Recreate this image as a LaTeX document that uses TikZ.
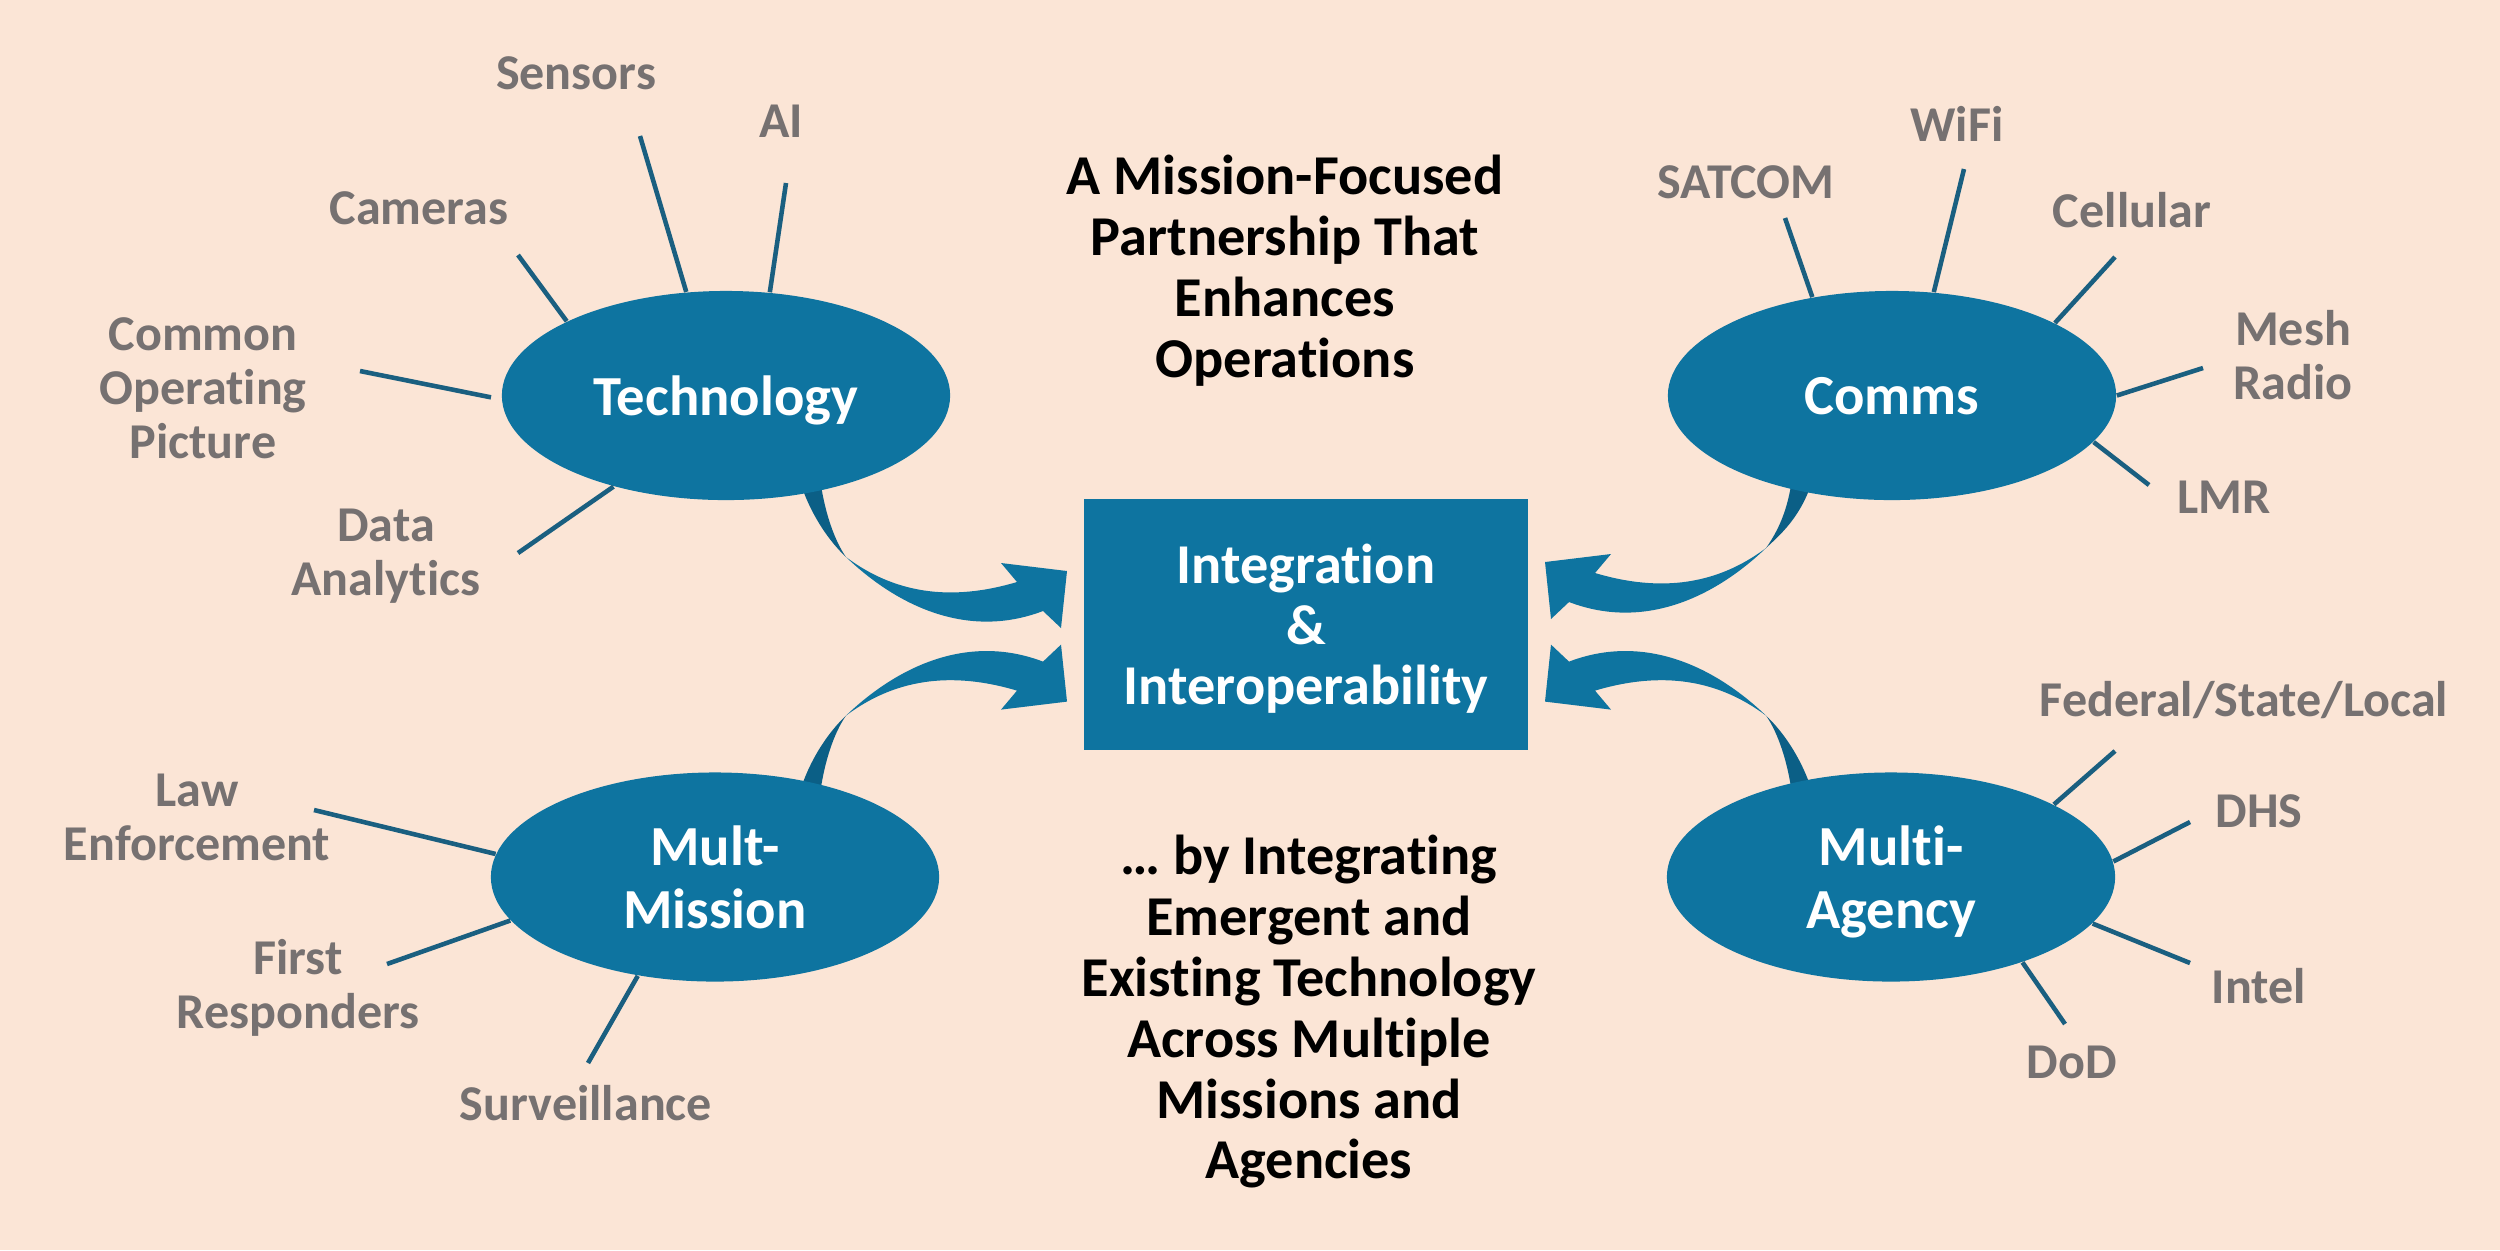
\documentclass[tikz,border=0pt]{standalone}
\usepackage{fontspec}
\setmainfont{Carlito}[Ligatures={NoCommon,NoContextual}]
\usetikzlibrary{shapes.geometric}
\definecolor{bgc}{HTML}{FBE5D6}
\definecolor{bluec}{HTML}{0E74A0}
\definecolor{darkc}{HTML}{0B5F86}
\definecolor{spokec}{HTML}{1A5F80}
\definecolor{greyc}{HTML}{767171}
% #1 x offset, #2 x scale, #3 y offset, #4 y scale, #5 head shift
\newcommand{\CArrow}[5]{%
 \fill[darkc] ({#1+(#2)*799.5},{#3+(#4)*480})
   .. controls ({#1+(#2)*811},{#3+(#4)*517}) and ({#1+(#2)*831.4},{#3+(#4)*(543.4+(#5))})
   .. ({#1+(#2)*846},{#3+(#4)*(557+(#5))})
   .. controls ({#1+(#2)*834},{#3+(#4)*(540+(#5))}) and ({#1+(#2)*824},{#3+(#4)*510})
   .. ({#1+(#2)*820},{#3+(#4)*478}) -- cycle;
 \fill[bluec] ({#1+(#2)*846},{#3+(#4)*(557+(#5))})
   .. controls ({#1+(#2)*896.4},{#3+(#4)*(605.3+(#5))}) and ({#1+(#2)*967},{#3+(#4)*(640+(#5))})
   .. ({#1+(#2)*1043},{#3+(#4)*(611+(#5))})
   -- ({#1+(#2)*1061},{#3+(#4)*(628+(#5))})
   -- ({#1+(#2)*1067},{#3+(#4)*(571+(#5))})
   -- ({#1+(#2)*1001},{#3+(#4)*(563+(#5))})
   -- ({#1+(#2)*1017},{#3+(#4)*(582+(#5))})
   .. controls ({#1+(#2)*949.8},{#3+(#4)*(602+(#5))}) and ({#1+(#2)*894},{#3+(#4)*(593+(#5))})
   .. ({#1+(#2)*846},{#3+(#4)*(557+(#5))}) -- cycle;
}
\begin{document}
\begin{tikzpicture}[x=0.01cm,y=-0.01cm,
  lbl/.style={text=greyc, font=\fontsize{14.25}{15.4}\selectfont\bfseries, align=center, inner sep=0pt, text depth=0pt},
  hub/.style={ellipse, fill=bluec, text=white, minimum width=4.48cm, minimum height=2.09cm, inner sep=0pt, text depth=0pt, font=\fontsize{16.1}{17.9}\selectfont\bfseries, align=center},
  core/.style={rectangle, fill=bluec, text=white, minimum width=4.44cm, minimum height=2.5cm, inner sep=0pt, text depth=0pt, font=\fontsize{16}{17.2}\selectfont\bfseries, align=center},
  note/.style={text=black, font=\fontsize{16}{17.3}\selectfont\bfseries, align=center, inner sep=0pt, text depth=0pt},
  spoke/.style={draw=spokec, line width=1.3pt}]
\fill[bgc] (0,0) rectangle (2500,1250);
\useasboundingbox (0,0) rectangle (2500,1250);

% curved arrows
\CArrow{0}{1}{0}{1}{0}
\CArrow{2612}{-1}{0}{1}{-9}
\CArrow{0}{1}{1272.6}{-1}{0}
\CArrow{2612}{-1}{1272.6}{-1}{0}

% hubs
\node[hub] (tech) at (726,395.5) {Technology};
\node[hub] (comms) at (1892,395.5) {Comms};
\node[hub] (mission) at (715,877) {Mult-\\Mission};
\node[hub] (agency) at (1891,877) {Multi-\\Agency};
\node[core] (integ) at (1306,624.5) {Integration\\\&\\Interoperability};

% spoke ends
\coordinate (e-sensors) at (640,136);
\coordinate (e-ai) at (786,183);
\coordinate (e-cameras) at (518,255);
\coordinate (e-cop) at (360,371);
\coordinate (e-data) at (518,553);
\coordinate (e-satcom) at (1785,218);
\coordinate (e-wifi) at (1964,169);
\coordinate (e-cell) at (2115,257);
\coordinate (e-mesh) at (2203,368);
\coordinate (e-lmr) at (2149,485);
\coordinate (e-law) at (314,810);
\coordinate (e-first) at (387,964);
\coordinate (e-surv) at (588,1063);
\coordinate (e-fed) at (2115,751);
\coordinate (e-dhs) at (2190,822);
\coordinate (e-intel) at (2190,963);
\coordinate (e-dod) at (2065,1024);

% spokes
\draw[spoke] (tech.111.5) -- (e-sensors);
\draw[spoke] (tech.67.5) -- (e-ai);
\draw[spoke] (tech.155) -- (e-cameras);
\draw[spoke, shorten <=3pt] (tech.181) -- (e-cop);
\draw[spoke] (tech.219.5) -- (e-data);
\draw[spoke] (comms.129.6) -- (e-satcom);
\draw[spoke] (comms.68) -- (e-wifi);
\draw[spoke] (comms.24.8) -- (e-cell);
\draw[spoke] (comms.0) -- (e-mesh);
\draw[spoke] (comms.-13.8) -- (e-lmr);
\draw[spoke] (mission.174) -- (e-law);
\draw[spoke] (mission.192.9) -- (e-first);
\draw[spoke] (mission.232) -- (e-surv);
\draw[spoke] (agency.24.7) -- (e-fed);
\draw[spoke] (agency.4) -- (e-dhs);
\draw[spoke] (agency.-13.3) -- (e-intel);
\draw[spoke] (agency.-33.3) -- (e-dod);

% labels
\node[lbl] (sensors) at (576,73) {Sensors};
\node[lbl] (ai) at (781,121) {AI};
\node[lbl] (cameras) at (419,208) {Cameras};
\node[lbl] (cop) at (203,388) {Common\\Operating\\Picture};
\node[lbl] (data) at (386,552) {Data\\Analytics};
\node[lbl] (satcom) at (1746,182) {SATCOM};
\node[lbl] (wifi) at (1957,124) {WiFi};
\node[lbl] (cell) at (2132,210) {Cellular};
\node[lbl] (mesh) at (2293,355) {Mesh\\Radio};
\node[lbl] (lmr) at (2224,497) {LMR};
\node[lbl] (law) at (197,817) {Law\\Enforcement};
\node[lbl] (first) at (298,984) {First\\Responders};
\node[lbl] (surv) at (586,1103) {Surveillance};
\node[lbl] (fed) at (2244,699) {Federal/State/Local};
\node[lbl] (dhs) at (2259,811) {DHS};
\node[lbl] (intel) at (2259,986) {Intel};
\node[lbl] (dod) at (2072,1062) {DoD};

\node[note] (title) at (1285,266) {A Mission-Focused\\Partnership That\\Enhances\\Operations};
\node[note] (tagline) at (1309,1007) {… by Integrating\\Emergent and\\Existing Technology\\Across Multiple\\Missions and\\Agencies};
\end{tikzpicture}
\end{document}
